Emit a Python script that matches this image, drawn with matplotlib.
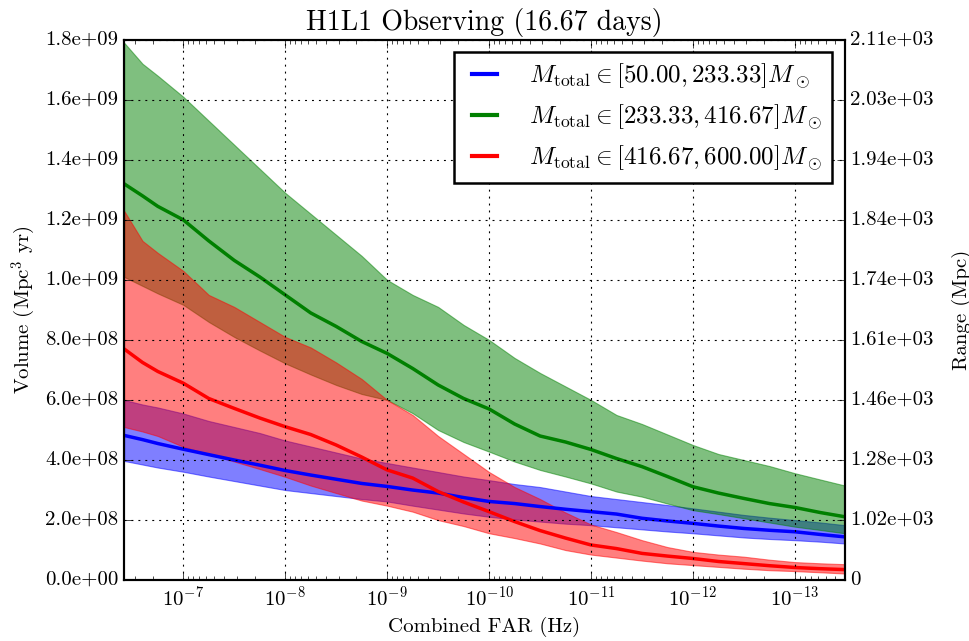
import numpy as np
import matplotlib
matplotlib.use('Agg')
import matplotlib.pyplot as plt
from matplotlib.ticker import FixedLocator, FuncFormatter

# FAR sample points, log10(Hz)
far_exp = [-6.42, -6.6, -6.75, -7.0, -7.25, -7.5, -7.75, -8.0, -8.25, -8.5,
           -8.75, -9.0, -9.25, -9.5, -9.75, -10.0, -10.25, -10.5, -10.75, -11.0,
           -11.25, -11.5, -11.75, -12.0, -12.25, -12.5, -12.75, -13.0, -13.25, -13.49]

# volumes in units of 1e8 Mpc^3 yr (lower / centre / upper)
blue_lo = [3.97, 3.85, 3.75, 3.61, 3.45, 3.3, 3.15, 3.0, 2.9, 2.8,
           2.7, 2.62, 2.48, 2.35, 2.22, 2.11, 2.02, 1.95, 1.88, 1.83,
           1.76, 1.69, 1.62, 1.56, 1.49, 1.42, 1.37, 1.33, 1.28, 1.22]
blue_mid = [4.82, 4.68, 4.55, 4.36, 4.18, 4.0, 3.83, 3.65, 3.5, 3.36,
            3.22, 3.12, 3.0, 2.9, 2.75, 2.62, 2.55, 2.45, 2.36, 2.28,
            2.2, 2.06, 1.97, 1.89, 1.8, 1.72, 1.66, 1.61, 1.52, 1.44]
blue_hi = [6.0, 5.85, 5.75, 5.55, 5.3, 5.1, 4.9, 4.65, 4.45, 4.25,
           4.05, 3.9, 3.75, 3.6, 3.45, 3.33, 3.2, 3.1, 2.95, 2.8,
           2.7, 2.6, 2.5, 2.39, 2.28, 2.17, 2.08, 2.0, 1.92, 1.83]

green_lo = [10.1, 9.8, 9.55, 9.17, 8.6, 8.1, 7.65, 7.22, 6.85, 6.5,
            6.2, 6.0, 5.56, 5.0, 4.6, 4.28, 3.95, 3.67, 3.45, 3.22,
            2.95, 2.78, 2.55, 2.33, 2.2, 2.06, 1.92, 1.78, 1.67, 1.56]
green_mid = [13.2, 12.8, 12.45, 12.0, 11.3, 10.65, 10.1, 9.5, 8.9, 8.45,
             7.95, 7.55, 7.05, 6.5, 6.05, 5.7, 5.2, 4.8, 4.6, 4.35,
             4.05, 3.78, 3.45, 3.11, 2.9, 2.72, 2.55, 2.42, 2.25, 2.11]
green_hi = [17.9, 17.2, 16.8, 16.1, 15.3, 14.5, 13.7, 12.9, 12.2, 11.5,
            10.8, 10.0, 9.5, 9.1, 8.5, 8.0, 7.4, 6.9, 6.45, 6.0,
            5.5, 5.2, 4.85, 4.5, 4.2, 4.0, 3.8, 3.56, 3.35, 3.15]

red_lo = [5.1, 4.95, 4.8, 4.44, 4.2, 3.95, 3.7, 3.44, 3.15, 2.9,
          2.65, 2.48, 2.28, 2.0, 1.8, 1.56, 1.4, 1.22, 1.0, 0.85,
          0.75, 0.65, 0.56, 0.5, 0.44, 0.38, 0.33, 0.3, 0.26, 0.22]
red_mid = [7.7, 7.25, 6.95, 6.56, 6.05, 5.72, 5.4, 5.11, 4.85, 4.5,
           4.1, 3.67, 3.4, 2.95, 2.6, 2.28, 1.95, 1.65, 1.4, 1.17,
           1.05, 0.89, 0.8, 0.72, 0.62, 0.55, 0.48, 0.42, 0.38, 0.35]
red_hi = [12.3, 11.3, 10.9, 10.3, 9.5, 9.1, 8.6, 8.1, 7.75, 7.25,
          6.7, 6.0, 5.5, 4.8, 4.2, 3.6, 3.1, 2.7, 2.25, 1.85,
          1.6, 1.33, 1.1, 0.94, 0.85, 0.78, 0.68, 0.6, 0.56, 0.53]

labels = [r'$M_{\rm total} \in [50.00, 233.33] M_\odot$',
          r'$M_{\rm total} \in [233.33, 416.67] M_\odot$',
          r'$M_{\rm total} \in [416.67, 600.00] M_\odot$']
colors = ['blue', 'green', 'red']

livetime_days = 16.67
vol_ticks = [0, 2e8, 4e8, 6e8, 8e8, 1.0e9, 1.2e9, 1.4e9, 1.6e9, 1.8e9]

plt.style.use('classic')
plt.rcParams.update({
    'figure.facecolor': 'white',
    'savefig.facecolor': 'white',
    'font.family': 'serif',
    'font.serif': ['cmr10'],
    'mathtext.fontset': 'cm',
    'axes.unicode_minus': False,
    'axes.formatter.use_mathtext': True,
    'font.size': 15,
    'axes.linewidth': 1.5,
    'xtick.major.size': 6,
    'xtick.minor.size': 3,
    'ytick.major.size': 6,
    'ytick.minor.size': 3,
})

far = 10.0 ** np.array(far_exp)
series = [(blue_lo, blue_mid, blue_hi), (green_lo, green_mid, green_hi),
          (red_lo, red_mid, red_hi)]

fig = plt.figure(figsize=(9.7, 6.41), dpi=100)
ax = fig.add_axes([0.128, 0.095, 0.743, 0.843])

for (lo, mid, hi), c in zip(series, colors):
    ax.fill_between(far, np.array(lo) * 1e8, np.array(hi) * 1e8,
                    color=c, alpha=0.5, lw=0.8)
for (lo, mid, hi), c, lab in zip(series, colors, labels):
    ax.plot(far, np.array(mid) * 1e8, color=c, lw=2.5, label=lab)

ax.set_xscale('log')
ax.set_xlim(far[0], far[-1])
ax.set_ylim(0, 1.8e9)
ax.yaxis.set_major_locator(FixedLocator(vol_ticks))
ax.yaxis.set_major_formatter(FuncFormatter(lambda v, p: '%.1e' % v))
ax.grid(True, color='black', linestyle=(0, (1.4, 3.6)), linewidth=0.8)
ax.set_xlabel('Combined FAR (Hz)')
ax.set_ylabel(r'Volume (Mpc$^3$ yr)')
ax.set_title('H1L1 Observing (%.2f days)' % livetime_days, fontsize=20, y=1.005)

leg = ax.legend(loc='upper right', fontsize=18, handlelength=1.6,
                handletextpad=1.0, borderpad=0.4, labelspacing=0.48,
                borderaxespad=0.5)
leg.get_frame().set_linewidth(1.8)
for line in leg.get_lines():
    line.set_linewidth(3)

# right axis: sensitive range corresponding to the volume
T_yr = livetime_days / 365.25


def vol_to_range(v, pos):
    if v == 0:
        return '0'
    r = (3.0 * v / (4.0 * np.pi * T_yr)) ** (1.0 / 3.0)
    return '%.2e' % r


ax2 = ax.twinx()
ax2.set_ylim(ax.get_ylim())
ax2.yaxis.set_major_locator(FixedLocator(vol_ticks))
ax2.yaxis.set_major_formatter(FuncFormatter(vol_to_range))
ax2.set_ylabel('Range (Mpc)')
ax2.yaxis.set_label_coords(1.148, 0.5)

fig.savefig('out.png', dpi=100)
